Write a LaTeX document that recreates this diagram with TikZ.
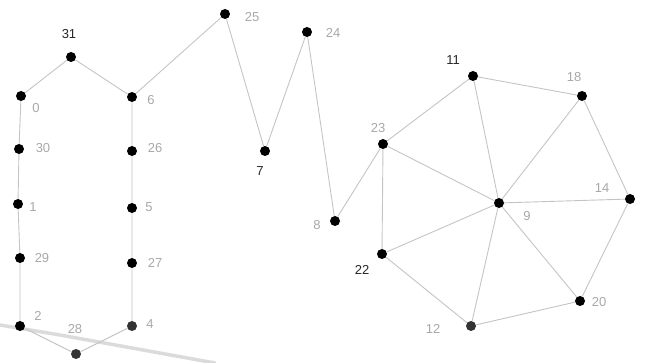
\documentclass[tikz,border=0pt]{standalone}
\usepackage{fontspec}
\setmainfont{Liberation Sans}
\definecolor{edgec}{HTML}{C4C4C4}
\definecolor{labg}{HTML}{A8A8A8}
\definecolor{dark}{HTML}{333333}
\tikzset{
  vtx/.style={circle,fill=black,inner sep=0pt,minimum size=10pt},
  vtxd/.style={vtx,fill=dark},
  lab/.style={text=labg,font=\fontsize{13}{13}\selectfont,inner sep=0pt},
  labk/.style={text=black!85,font=\fontsize{13}{13}\selectfont,inner sep=0pt},
  edge/.style={draw=edgec,line width=0.9pt}
}
\begin{document}
\begin{tikzpicture}[x=1pt,y=-1pt]
\useasboundingbox (0,0) rectangle (645,363);
% streak
\draw[line width=3.5pt,gray!28,line cap=round] (0,325) -- (60,335) -- (215,363);
% vertices
\node[vtx] (n31) at (71,57) {};
\node[vtx] (n0) at (21,96) {};
\node[vtx] (n6) at (132,97) {};
\node[vtx] (n30) at (19,149) {};
\node[vtx] (n26) at (132,151) {};
\node[vtx] (n1) at (18,204) {};
\node[vtx] (n5) at (132,208) {};
\node[vtx] (n29) at (20,258) {};
\node[vtx] (n27) at (132,263) {};
\node[vtx] (n2) at (20,326) {};
\node[vtxd] (n4) at (132,326) {};
\node[vtxd] (n28) at (76,354) {};
\node[vtx] (n25) at (225,14) {};
\node[vtx] (n24) at (307,32) {};
\node[vtx] (n7) at (265,151) {};
\node[vtx] (n8) at (335,221) {};
\node[vtx] (n23) at (383,144) {};
\node[vtx] (n11) at (473,76) {};
\node[vtx] (n18) at (582,96) {};
\node[vtx] (n14) at (630,199) {};
\node[vtx] (n9) at (499,203) {};
\node[vtx] (n22) at (382,254) {};
\node[vtxd] (n12) at (471,326) {};
\node[vtx] (n20) at (580,301) {};
% edges
\path[edge] (n0) -- (n31) -- (n6) -- (n25) -- (n7) -- (n24) -- (n8) -- (n23);
\path[edge] (n0) -- (n30) -- (n1) -- (n29) -- (n2) -- (n28) -- (n4) -- (n27) -- (n5) -- (n26) -- (n6);
\path[edge] (n23) -- (n11) -- (n18) -- (n14) -- (n20) -- (n12) -- (n22) -- (n23);
\path[edge] (n23) -- (n9);
\path[edge] (n11) -- (n9);
\path[edge] (n18) -- (n9);
\path[edge] (n14) -- (n9);
\path[edge] (n20) -- (n9);
\path[edge] (n12) -- (n9);
\path[edge] (n22) -- (n9);
% labels
\node[labk] (l31) at (69,34) {31};
\node[lab] (l0) at (36,108) {0};
\node[lab] (l6) at (151,100) {6};
\node[lab] (l30) at (43,148) {30};
\node[lab] (l26) at (155,148) {26};
\node[lab] (l1) at (33,207) {1};
\node[lab] (l5) at (149,207) {5};
\node[lab] (l29) at (42,258) {29};
\node[lab] (l27) at (155,263) {27};
\node[lab] (l2) at (38,316) {2};
\node[lab] (l4) at (150,324) {4};
\node[lab] (l28) at (75,329) {28};
\node[lab] (l25) at (252,17) {25};
\node[lab] (l24) at (333,33) {24};
\node[labk] (l7) at (260,171) {7};
\node[lab] (l8) at (317,225) {8};
\node[lab] (l23) at (378,128) {23};
\node[labk] (l11) at (453,60) {11};
\node[lab] (l18) at (574,77) {18};
\node[lab] (l14) at (602,188) {14};
\node[lab] (l9) at (527,216) {9};
\node[labk] (l22) at (362,270) {22};
\node[lab] (l12) at (433,329) {12};
\node[lab] (l20) at (599,302) {20};
\end{tikzpicture}
\end{document}
